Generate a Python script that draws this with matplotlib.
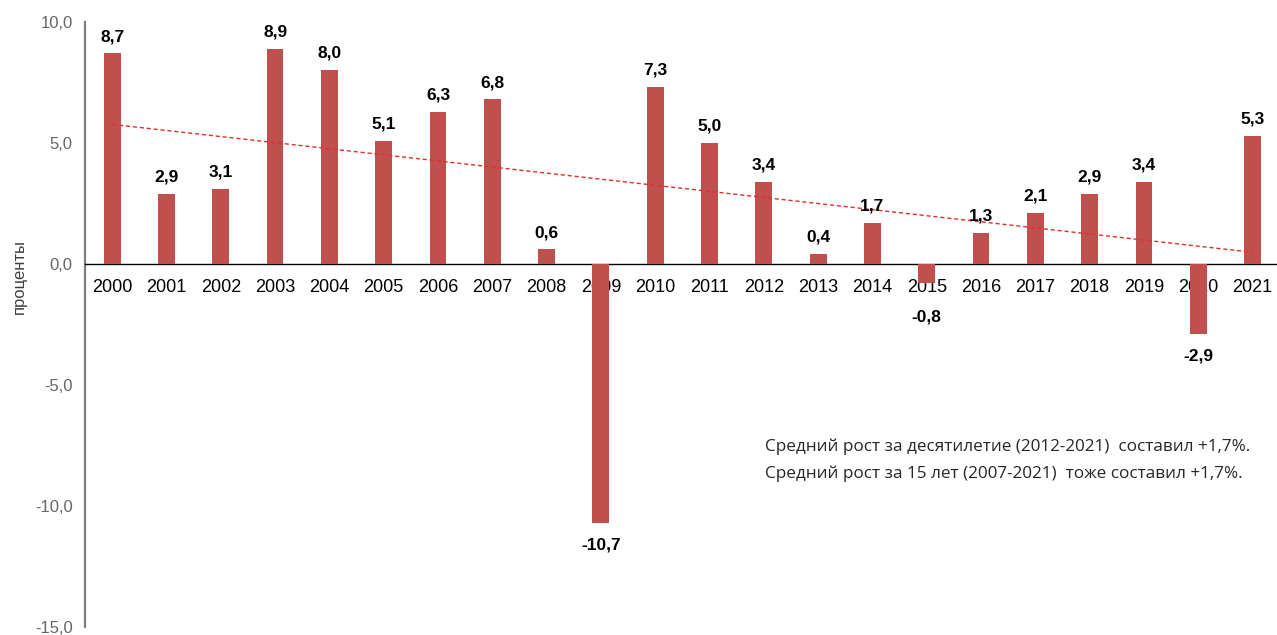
import numpy as np
import matplotlib.pyplot as plt

# Growth by year, percent
years = list(range(2000, 2022))
growth = [8.7, 2.9, 3.1, 8.9, 8.0, 5.1, 6.3, 6.8, 0.6, -10.7, 7.3,
          5.0, 3.4, 0.4, 1.7, -0.8, 1.3, 2.1, 2.9, 3.4, -2.9, 5.3]
y_ticks = [-15, -10, -5, 0, 5, 10]
note_lines = ['Средний рост за десятилетие (2012-2021)  составил +1,7%.',
              'Средний рост за 15 лет (2007-2021)  тоже составил +1,7%.']

bar_color = '#C0504D'

fig = plt.figure(figsize=(12.77, 6.35), dpi=100)
ax = fig.add_axes([85 / 1277, 8 / 635, 1192 / 1277, 605 / 635])
ax.set_axisbelow(True)

# spine first: moving it resets the ticks
ax.spines['bottom'].set_position(('data', 0))
ax.spines['bottom'].set_color('black')
ax.spines['bottom'].set_linewidth(1.0)
ax.spines['left'].set_color('#7f7f7f')
ax.spines['left'].set_linewidth(1.6)
ax.spines['top'].set_visible(False)
ax.spines['right'].set_visible(False)

x = np.arange(len(years))
ax.bar(x, growth, width=0.31, color=bar_color, zorder=3)

# linear trend over the whole period
k, b = np.polyfit(x, growth, 1)
ax.plot(x, k * x + b, color='#E0302C', lw=1.0, ls=(0, (3, 2)), zorder=4)

for xi, v in zip(x, growth):
    if v >= 0:
        ty = v + 0.7
    else:
        ty = min(v - 0.9, -2.2)
    ax.text(xi, ty, f'{v:.1f}'.replace('.', ','), ha='center', va='center',
            fontsize=12.5, fontweight='bold', family='Liberation Sans', zorder=5)

ax.set_ylim(-15, 10)
ax.set_xlim(-0.5, 21.45)
ax.set_yticks(y_ticks)
ax.set_yticklabels([f'{t:.1f}'.replace('.', ',') for t in y_ticks],
                   fontsize=12, color='#666666', family='Liberation Sans')
ax.set_xticks(x)
ax.set_xticklabels([str(y) for y in years], fontsize=13, family='Liberation Sans')
ax.tick_params(axis='both', length=0)
ax.tick_params(axis='x', pad=11)
ax.tick_params(axis='y', pad=9)

ax.set_ylabel('проценты', fontsize=12, color='#404040', family='Liberation Sans')
ax.yaxis.set_label_coords(-58 / 1192, 0.58)

fig.text(765 / 1277, 1 - 447 / 635, note_lines[0], fontsize=12.3,
         family='Open Sans', color='#262626', va='center')
fig.text(765 / 1277, 1 - 474 / 635, note_lines[1], fontsize=12.3,
         family='Open Sans', color='#262626', va='center')

fig.savefig('out.png', dpi=100)
